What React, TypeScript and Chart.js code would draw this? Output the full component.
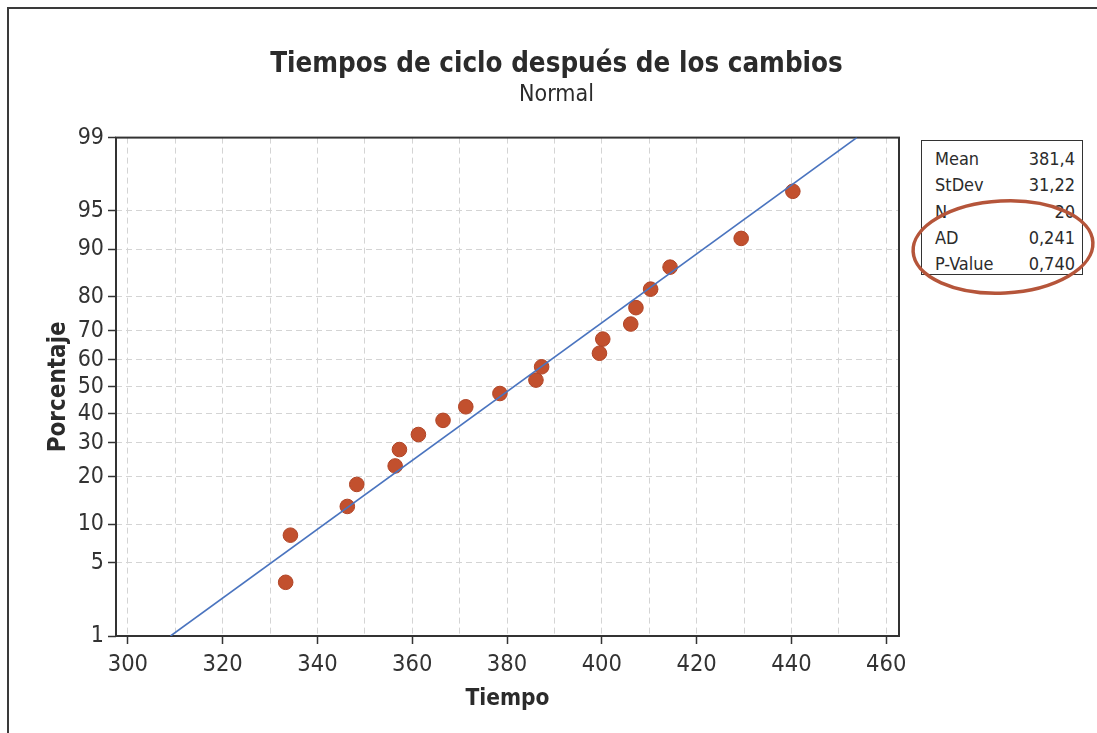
import React, { useEffect, useRef } from "react";
import { Chart, registerables } from "chart.js";

Chart.register(...registerables);

// ---- data ----
const tiempo = [333.3, 334.3, 346.3, 348.3, 356.4, 357.3, 361.3, 366.5, 371.3, 378.5, 386.1, 387.3, 399.5, 400.2, 406.1, 407.2, 410.3, 414.4, 429.4, 440.3];
const porcentaje = [3.4, 8.3, 13.2, 18.1, 23.0, 27.9, 32.8, 37.7, 42.6, 47.5, 52.5, 57.4, 62.3, 67.2, 72.1, 77.0, 81.9, 86.8, 91.7, 96.6];
const fitTiempo = [309.0, 453.8];
const fitPorcentaje = [1, 99];
const yTickPercents = [1, 5, 10, 20, 30, 40, 50, 60, 70, 80, 90, 95, 99];
const xGridValues = [300, 310, 320, 330, 340, 350, 360, 370, 380, 390, 400, 410, 420, 430, 440, 450, 460];
const xLabelValues = [300, 320, 340, 360, 380, 400, 420, 440, 460];
const statLabels = ["Mean", "StDev", "N", "AD", "P-Value"];
const statValues = ["381,4", "31,22", "20", "0,241", "0,740"];

const FONT = '"DejaVu Sans Condensed", "DejaVu Sans", sans-serif';

// inverse standard normal CDF (Acklam) for the probability axis
function probit(p: number): number {
  const a = [-3.969683028665376e1, 2.209460984245205e2, -2.759285104469687e2, 1.38357751867269e2, -3.066479806614716e1, 2.506628277459239];
  const b = [-5.447609879822406e1, 1.615858368580409e2, -1.556989798598866e2, 6.680131188771972e1, -1.328068155288572e1];
  const c = [-7.784894002430293e-3, -3.223964580411365e-1, -2.400758277161838, -2.549671010229417, 4.374664141464968, 2.938163982698783];
  const d = [7.784695709041462e-3, 3.224671290700398e-1, 2.445134137142996, 3.754408661907416];
  const pl = 0.02425;
  if (p < pl) {
    const q = Math.sqrt(-2 * Math.log(p));
    return (((((c[0] * q + c[1]) * q + c[2]) * q + c[3]) * q + c[4]) * q + c[5]) / ((((d[0] * q + d[1]) * q + d[2]) * q + d[3]) * q + 1);
  }
  if (p <= 1 - pl) {
    const q = p - 0.5;
    const r = q * q;
    return ((((((a[0] * r + a[1]) * r + a[2]) * r + a[3]) * r + a[4]) * r + a[5]) * q) / (((((b[0] * r + b[1]) * r + b[2]) * r + b[3]) * r + b[4]) * r + 1);
  }
  const q = Math.sqrt(-2 * Math.log(1 - p));
  return -(((((c[0] * q + c[1]) * q + c[2]) * q + c[3]) * q + c[4]) * q + c[5]) / ((((d[0] * q + d[1]) * q + d[2]) * q + d[3]) * q + 1);
}

const frameBox = {
  id: "frameBox",
  beforeDatasetsDraw(chart: any) {
    const { ctx, chartArea } = chart;
    ctx.save();
    ctx.strokeStyle = "#333333";
    ctx.lineWidth = 2;
    ctx.strokeRect(chartArea.left, chartArea.top, chartArea.right - chartArea.left, chartArea.bottom - chartArea.top);
    ctx.restore();
  },
};

export default function App() {
  const canvasRef = useRef<HTMLCanvasElement | null>(null);

  useEffect(() => {
    if (!canvasRef.current) return;
    const points = tiempo.map((t, i) => ({ x: t, y: probit(porcentaje[i] / 100) }));
    const fit = fitTiempo.map((t, i) => ({ x: t, y: probit(fitPorcentaje[i] / 100) }));

    const chart = new Chart(canvasRef.current, {
      type: "scatter",
      data: {
        datasets: [
          {
            type: "line",
            data: fit,
            borderColor: "#4a74bf",
            borderWidth: 1.6,
            pointRadius: 0,
            fill: false,
          } as any,
          {
            data: points,
            backgroundColor: "#c2502e",
            borderColor: "#b04426",
            borderWidth: 1,
            pointRadius: 7.3,
          },
        ],
      },
      options: {
        animation: false,
        responsive: false,
        layout: { padding: { left: 16, right: 0, top: 0, bottom: 0 } },
        plugins: {
          legend: { display: false },
          tooltip: { enabled: false },
          title: {
            display: true,
            text: "Tiempos de ciclo después de los cambios",
            color: "#2b2b2b",
            font: { family: FONT, size: 27.5, weight: "bold" },
            padding: { top: 48, bottom: 0 },
          },
          subtitle: {
            display: true,
            text: "Normal",
            color: "#2b2b2b",
            font: { family: FONT, size: 23, weight: "normal" },
            padding: { top: 0, bottom: 29 },
          },
        },
        scales: {
          x: {
            type: "linear",
            min: 297.5,
            max: 462.7,
            afterFit(scale: any) {
              scale.height = 97;
            },
            afterBuildTicks(scale: any) {
              scale.ticks = xGridValues.map((v) => ({ value: v }));
            },
            ticks: {
              autoSkip: false,
              maxRotation: 0,
              padding: 7,
              color: "#333333",
              font: { family: FONT, size: 23.5 },
              callback: (v: any) => (xLabelValues.includes(Number(v)) ? String(v) : ""),
            },
            grid: {
              color: "#d4d4d4",
              lineWidth: 1,
              tickLength: 8,
              tickColor: (ctx: any) => (ctx.tick && xLabelValues.includes(ctx.tick.value) ? "#333333" : "rgba(0,0,0,0)"),
              tickWidth: 1.5,
            },
            border: { display: false, dash: [6, 4] },
            title: {
              display: true,
              text: "Tiempo",
              color: "#2b2b2b",
              font: { family: FONT, size: 22.5, weight: "bold" },
              padding: { top: 0, bottom: 20 },
            },
          },
          y: {
            type: "linear",
            min: probit(0.01),
            max: probit(0.99),
            afterFit(scale: any) {
              scale.width = 100;
            },
            afterBuildTicks(scale: any) {
              scale.ticks = yTickPercents.map((p) => ({ value: probit(p / 100) }));
            },
            ticks: {
              autoSkip: false,
              padding: 4,
              color: "#333333",
              font: { family: FONT, size: 23 },
              callback: (_v: any, i: number) => String(yTickPercents[i]),
            },
            grid: {
              color: "#d4d4d4",
              lineWidth: 1,
              tickLength: 8,
              tickColor: "#333333",
              tickWidth: 1.5,
            },
            border: { display: false, dash: [6, 4] },
            title: {
              display: true,
              text: "Porcentaje",
              color: "#2b2b2b",
              font: { family: FONT, size: 24, weight: "bold" },
              padding: { top: 28, bottom: 0 },
            },
          },
          spacer: {
            type: "linear",
            position: "right",
            display: true,
            afterFit(scale: any) {
              scale.width = 198;
            },
            ticks: { display: false },
            grid: { display: false, drawTicks: false },
            border: { display: false },
          },
        },
      },
      plugins: [frameBox],
    });
    return () => chart.destroy();
  }, []);

  return (
    <div style={{ position: "fixed", left: 0, top: 0, width: 1097, height: 733, background: "#ffffff", overflow: "hidden" }}>
      <canvas ref={canvasRef} width={1097} height={733} style={{ position: "absolute", left: 0, top: 0, width: 1097, height: 733 }} />
      <div style={{ position: "absolute", left: 8, top: 7, width: 1089, height: 2, background: "#3a3a3a" }} />
      <div style={{ position: "absolute", left: 7, top: 7, width: 2, height: 726, background: "#3a3a3a" }} />
      <div
        style={{
          position: "absolute",
          left: 921,
          top: 140,
          width: 162,
          height: 135,
          boxSizing: "border-box",
          border: "1.5px solid #333",
          background: "#ffffff",
          paddingTop: 5,
          fontFamily: FONT,
          fontSize: 18,
          color: "#2b2b2b",
        }}
      >
        {statLabels.map((l, i) => (
          <div key={l} style={{ display: "flex", justifyContent: "space-between", height: 26.25, lineHeight: "26px", padding: "0 7px 0 13px" }}>
            <span>{l}</span>
            <span>{statValues[i]}</span>
          </div>
        ))}
      </div>
      <svg width={1097} height={733} style={{ position: "absolute", left: 0, top: 0, pointerEvents: "none" }}>
        <ellipse cx={1003} cy={247} rx={90} ry={46} fill="none" stroke="#b5553a" strokeWidth={3.5} transform="rotate(-3 1003 247)" />
      </svg>
    </div>
  );
}
